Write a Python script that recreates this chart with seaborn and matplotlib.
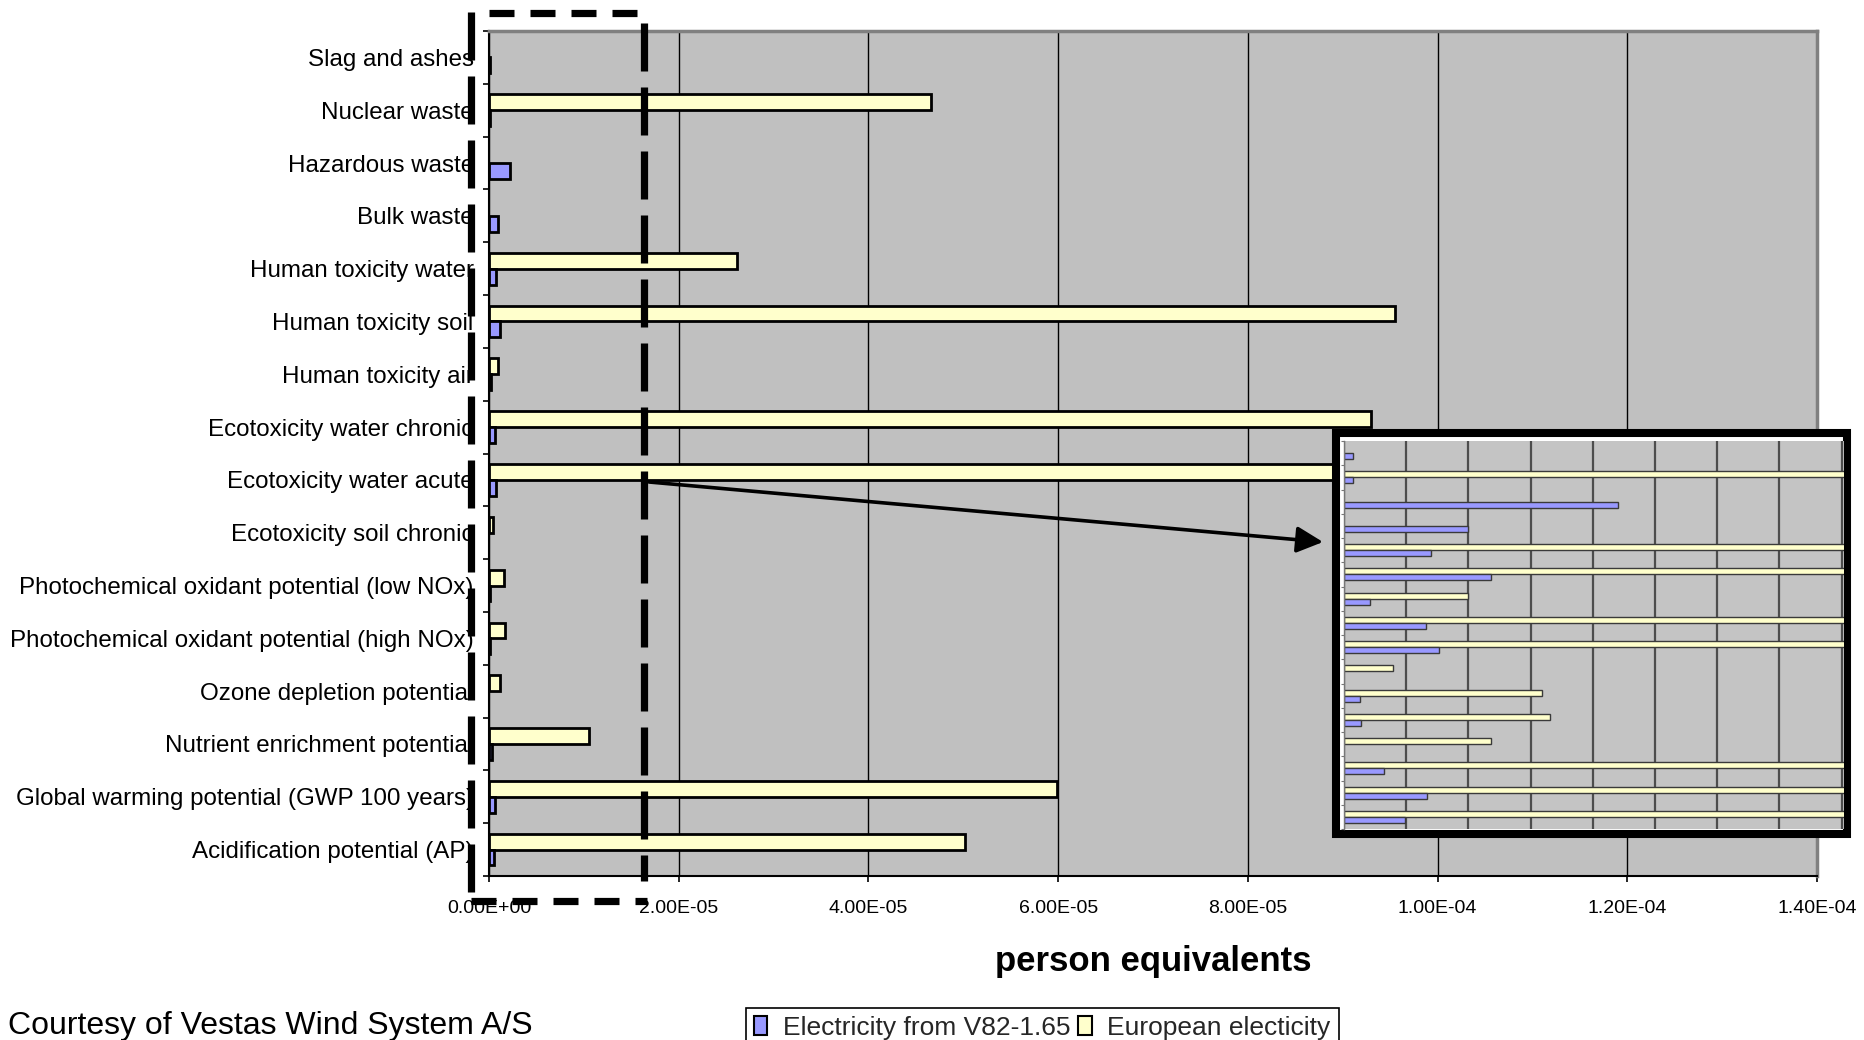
import numpy as np
import pandas as pd
import matplotlib
matplotlib.use("Agg")
import matplotlib.pyplot as plt
import seaborn as sns
from matplotlib.patches import Rectangle, Patch, FancyArrowPatch
from matplotlib.lines import Line2D
from matplotlib.ticker import FuncFormatter, FixedLocator

# ---- data -------------------------------------------------------------
categories = [
    "Slag and ashes",
    "Nuclear waste",
    "Hazardous waste",
    "Bulk waste",
    "Human toxicity water",
    "Human toxicity soil",
    "Human toxicity air",
    "Ecotoxicity water chronic",
    "Ecotoxicity water acute",
    "Ecotoxicity soil chronic",
    "Photochemical oxidant potential (low NOx)",
    "Photochemical oxidant potential (high NOx)",
    "Ozone depletion potential",
    "Nutrient enrichment potential",
    "Global warming potential (GWP 100 years)",
    "Acidification potential (AP)",
]

series_names = ["Electricity from V82-1.65", "European electicity"]

# person equivalents per kWh
v82_values = [
    0.07e-6, 0.07e-6, 2.20e-6, 1.00e-6, 0.70e-6, 1.18e-6, 0.21e-6, 0.66e-6,
    0.76e-6, 0.0, 0.13e-6, 0.14e-6, 0.0, 0.32e-6, 0.67e-6, 0.49e-6,
]
european_values = [
    0.0, 4.66e-5, 0.0, 0.0, 2.61e-5, 9.55e-5, 1.00e-6, 9.30e-5,
    1.10e-4, 0.39e-6, 1.59e-6, 1.66e-6, 1.18e-6, 1.05e-5, 5.99e-5, 5.02e-5,
]

x_ticks = [0.0, 2e-5, 4e-5, 6e-5, 8e-5, 1e-4, 1.2e-4, 1.4e-4]
zoom_ticks = [0.0, 0.5e-6, 1.0e-6, 1.5e-6, 2.0e-6, 2.5e-6, 3.0e-6, 3.5e-6, 4.0e-6]

n = len(categories)
df = pd.DataFrame({
    "category": categories * 2,
    "source": [series_names[0]] * n + [series_names[1]] * n,
    "value": v82_values + european_values,
})

colors = {series_names[0]: "#9999FF", series_names[1]: "#FFFFCC"}
# European bars sit above the V82 bars inside each category
hue_order = [series_names[1], series_names[0]]

# ---- figure -----------------------------------------------------------
sns.set_theme(style="white")
plt.rcParams["font.family"] = ["Liberation Sans", "DejaVu Sans"]

W, H = 1864, 1040
fig = plt.figure(figsize=(W / 100, H / 100), dpi=100)
fig.patch.set_facecolor("white")


def fx(px):
    return px / W


def fy(py):
    return 1 - py / H


# main chart
ax = fig.add_axes([fx(489), fy(876), fx(1817) - fx(489), fy(31) - fy(876)])
sns.barplot(
    data=df, y="category", x="value", hue="source", order=categories,
    hue_order=hue_order, palette=colors, orient="h", width=0.6,
    edgecolor="black", linewidth=2.0, errorbar=None, saturation=1,
    legend=False, ax=ax,
)
for p in ax.patches:
    if p.get_width() == 0:
        p.set_visible(False)

ax.set_facecolor("#C0C0C0")
ax.set_xlim(x_ticks[0], x_ticks[-1])
ax.set_ylim(n - 0.5, -0.5)
ax.xaxis.set_major_locator(FixedLocator(x_ticks))
ax.xaxis.set_major_formatter(FuncFormatter(lambda v, _: f"{v:.2E}"))
ax.set_axisbelow(True)
ax.grid(axis="x", color="black", lw=1.0)
ax.grid(axis="y", visible=False)

for side in ("left", "bottom"):
    ax.spines[side].set_color("black")
    ax.spines[side].set_linewidth(1.5)
for side in ("top", "right"):
    ax.spines[side].set_color("#808080")
    ax.spines[side].set_linewidth(2.5)

ax.set_yticks(range(n))
ax.set_yticklabels(categories)
ax.yaxis.set_minor_locator(FixedLocator(np.arange(n + 1) - 0.5))
ax.tick_params(axis="y", which="major", left=False, length=0, pad=11,
               labelsize=17.4, labelcolor="black")
ax.tick_params(axis="y", which="minor", left=True, length=4.3, width=1.2,
               color="black")
ax.tick_params(axis="x", which="major", bottom=True, length=4.3, width=1.2,
               color="black", pad=13, labelsize=14, labelcolor="black")

ax.set_ylabel("")
ax.set_xlabel("person equivalents", fontsize=25, fontweight="bold",
              color="black")
ax.xaxis.set_label_coords(0.5, -(961 - 876) / 845)
ax.xaxis.label.set_va("center")

# magnified view of the smallest values
frame = Rectangle((fx(1336), fy(834)), fx(1847) - fx(1336), fy(433) - fy(834),
                  transform=fig.transFigure, facecolor="white",
                  edgecolor="black", lw=5.8, zorder=4)
fig.add_artist(frame)

axi = fig.add_axes([fx(1344), fy(829), fx(1844) - fx(1344), fy(441) - fy(829)],
                   zorder=5)
sns.barplot(
    data=df, y="category", x="value", hue="source", order=categories,
    hue_order=hue_order, palette=colors, orient="h", width=0.5,
    edgecolor="#3a3a3a", linewidth=1.0, errorbar=None, saturation=1,
    legend=False, ax=axi,
)
for p in axi.patches:
    if p.get_width() == 0:
        p.set_visible(False)
axi.set_facecolor("#C4C4C4")
axi.set_xlim(0, 4.02e-6)
axi.set_ylim(n - 0.5, -0.5)
axi.xaxis.set_major_locator(FixedLocator(zoom_ticks))
axi.set_xticklabels([])
axi.set_axisbelow(True)
axi.grid(axis="x", color="#4d4d4d", lw=1.6)
axi.grid(axis="y", visible=False)
axi.set_yticks([])
axi.yaxis.set_minor_locator(FixedLocator(np.arange(n + 1) - 0.5))
axi.tick_params(axis="y", which="minor", left=True, length=2, width=0.8,
                color="#777777")
axi.tick_params(axis="x", length=0)
axi.set_xlabel("")
axi.set_ylabel("")
for side in ("top", "right", "bottom"):
    axi.spines[side].set_visible(False)
axi.spines["left"].set_color("#777777")
axi.spines["left"].set_linewidth(1.0)

# arrow from the marked region to the magnified view
arrow = FancyArrowPatch((fx(649), fy(482)), (fx(1323), fy(542)),
                        transform=fig.transFigure, arrowstyle="-|>",
                        mutation_scale=40, lw=2.6, color="black",
                        shrinkA=0, shrinkB=0, zorder=6)
fig.add_artist(arrow)


def dashed(x0, y0, x1, y1, dash_px, gap_px, lw=5.2):
    line = Line2D([fx(x0), fx(x1)], [fy(y0), fy(y1)],
                  transform=fig.transFigure, color="black", lw=lw,
                  linestyle=(0, (dash_px * 0.72 / lw, gap_px * 0.72 / lw)),
                  dash_capstyle="butt", zorder=6)
    fig.add_artist(line)


# dashed frame around the region shown in the magnified view
dashed(489, 13, 644, 13, 25, 16)
dashed(471, 12, 471, 901, 48, 16)
dashed(644, 23, 644, 881, 48, 16)
dashed(471, 901, 647, 901, 25, 16)

# legend
handles = [
    Patch(facecolor=colors[series_names[0]], edgecolor="black", lw=1.5,
          label=series_names[0]),
    Patch(facecolor=colors[series_names[1]], edgecolor="black", lw=1.5,
          label=series_names[1]),
]
leg = fig.legend(handles=handles, loc="upper left",
                 bbox_to_anchor=(fx(746), fy(1008)), ncol=2, frameon=True,
                 fancybox=False, edgecolor="black", framealpha=1,
                 fontsize=19, handlelength=0.5, handleheight=0.7,
                 handletextpad=0.6, columnspacing=0.3, borderpad=0.3,
                 borderaxespad=0)
leg.get_frame().set_linewidth(1.2)

fig.text(fx(8), fy(1034), "Courtesy of Vestas Wind System A/S",
         fontsize=23, ha="left", va="baseline", color="black")

fig.savefig("out.png", dpi=100, facecolor="white")
